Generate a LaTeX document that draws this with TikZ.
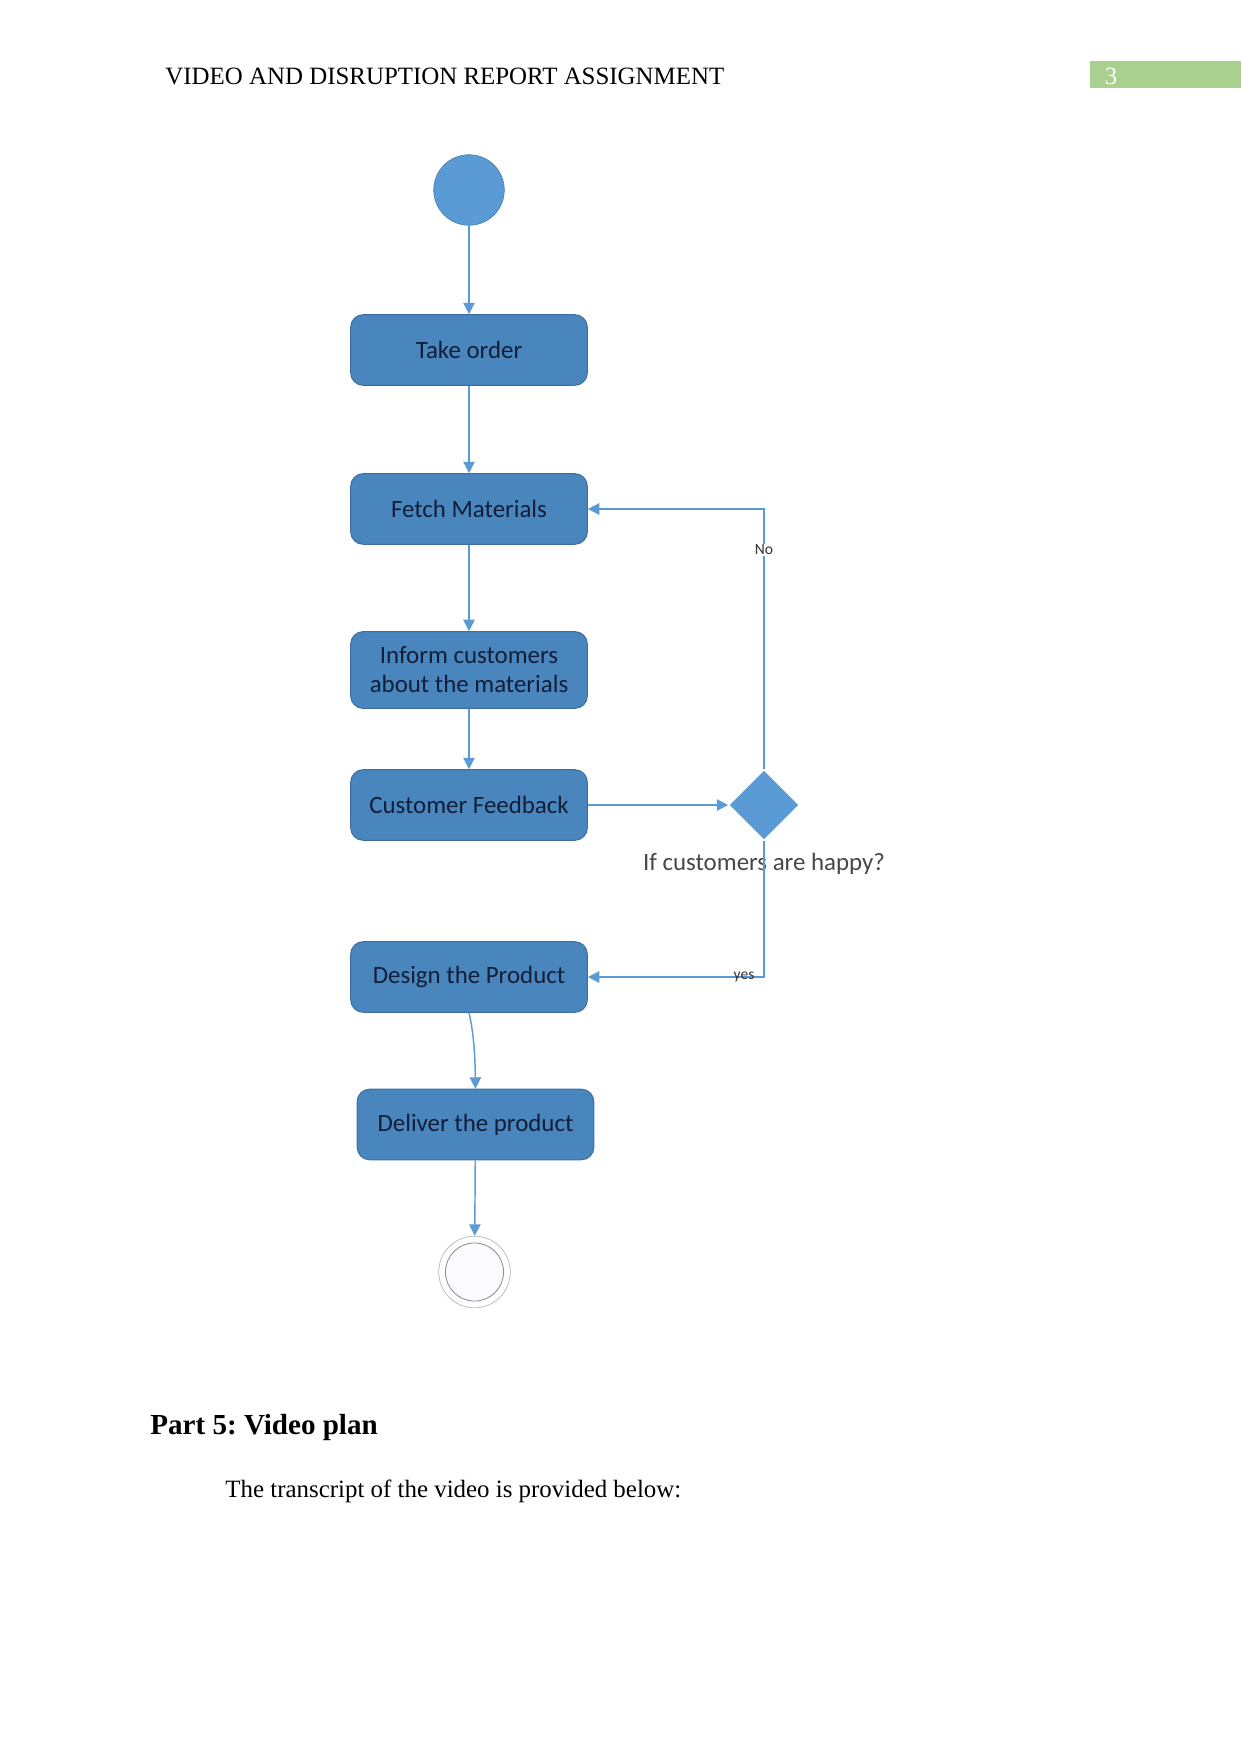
\documentclass[tikz,border=0pt]{standalone}
\usepackage{fontspec}
\setmainfont{Liberation Serif}
\newfontfamily\boxfont{Carlito}
\usetikzlibrary{arrows.meta,shapes.geometric}
\definecolor{boxfill}{RGB}{74,134,190}
\definecolor{boxline}{RGB}{60,110,160}
\definecolor{lightblue}{RGB}{91,155,213}
\definecolor{txtnavy}{RGB}{18,30,56}
\definecolor{hdrgreen}{RGB}{169,208,142}
\frenchspacing
\tikzset{
  x=0.4818pt, y=-0.4818pt,
  actbox/.style={draw=boxline, line width=0.5pt, fill=boxfill, rounded corners=6pt,
    minimum width=114pt, minimum height=34pt, align=center, inner sep=2pt,
    font=\boxfont\fontsize{12}{14}\selectfont, text=txtnavy},
  conn/.style={draw=lightblue, line width=0.7pt, -{Triangle[width=5.5pt,length=5.5pt]}},
  smalllbl/.style={font=\boxfont\fontsize{7.5}{9}\selectfont, text=black!80, fill=white, inner sep=0.5pt}
}
\begin{document}
\begin{tikzpicture}
\useasboundingbox (0,0) rectangle (1241,1754);
% header
\node[anchor=base west, inner sep=0pt, font=\fontsize{12}{14}\selectfont] (hdr) at (165,85) {VIDEO AND DISRUPTION REPORT ASSIGNMENT};
\fill[hdrgreen] (1090,61) rectangle (1241,88);
\node[anchor=base, inner sep=0pt, text=white, font=\fontsize{12}{14}\selectfont] (pg) at (1111,85) {3};

% start node
\node[circle, fill=lightblue, draw=lightblue!80!black, line width=0.3pt, minimum size=34pt, inner sep=0pt] (start) at (469,190) {};

\node[actbox] (take) at (469,350) {Take order};
\node[actbox] (fetch) at (469,509) {Fetch Materials};
\node[actbox, minimum height=37pt, font=\boxfont\fontsize{12}{14}\selectfont] (inform) at (469,670) {Inform customers\\about the materials};
\node[actbox] (feed) at (469,805) {Customer Feedback};
\node[actbox] (design) at (469,977) {Design the Product};
\node[actbox] (deliver) at (475.5,1124.5) {Deliver the product};

\node[diamond, fill=lightblue, draw=white, line width=0.5pt, minimum width=34pt, minimum height=34pt, inner sep=0pt] (dec) at (764,805) {};
\node[font=\boxfont\fontsize{12}{14}\selectfont, text=black!72, inner sep=0pt] (declbl) at (764,864) {If customers are happy?};

% end node
\node[circle, draw=black!25, line width=0.4pt, minimum size=34.5pt, inner sep=0pt] (endo) at (474.5,1272) {};
\node[circle, draw=black!45, fill=blue!2, line width=0.4pt, minimum size=28pt, inner sep=0pt] (endi) at (474.5,1272) {};

% connectors
\draw[conn] (start) -- (take);
\draw[conn] (take) -- (fetch);
\draw[conn] (fetch) -- (inform);
\draw[conn] (inform) -- (feed);
\draw[conn] (feed) -- (dec);
\coordinate (nocorner) at (764,509);
\coordinate (yescorner) at (764,977);
\draw[conn] (dec.north) -- (nocorner) -- (fetch.east);
\draw[conn] (dec.south) -- (yescorner) -- (design.east);
\node[smalllbl] (nolbl) at (764,550) {No};
\node[smalllbl, fill=none] (yeslbl) at (744,977) {yes};
\draw[conn] (design.south) .. controls (473,1030) and (475,1050) .. (deliver.north);
\draw[conn] (deliver) -- (endo);

% body text
\node[anchor=base west, inner sep=0pt, font=\bfseries\fontsize{14}{17}\selectfont] (part) at (150,1434) {Part 5: Video plan};
\node[anchor=base west, inner sep=0pt, font=\fontsize{12}{14}\selectfont] (body) at (225,1497) {The transcript of the video is provided below:};
\end{tikzpicture}
\end{document}
